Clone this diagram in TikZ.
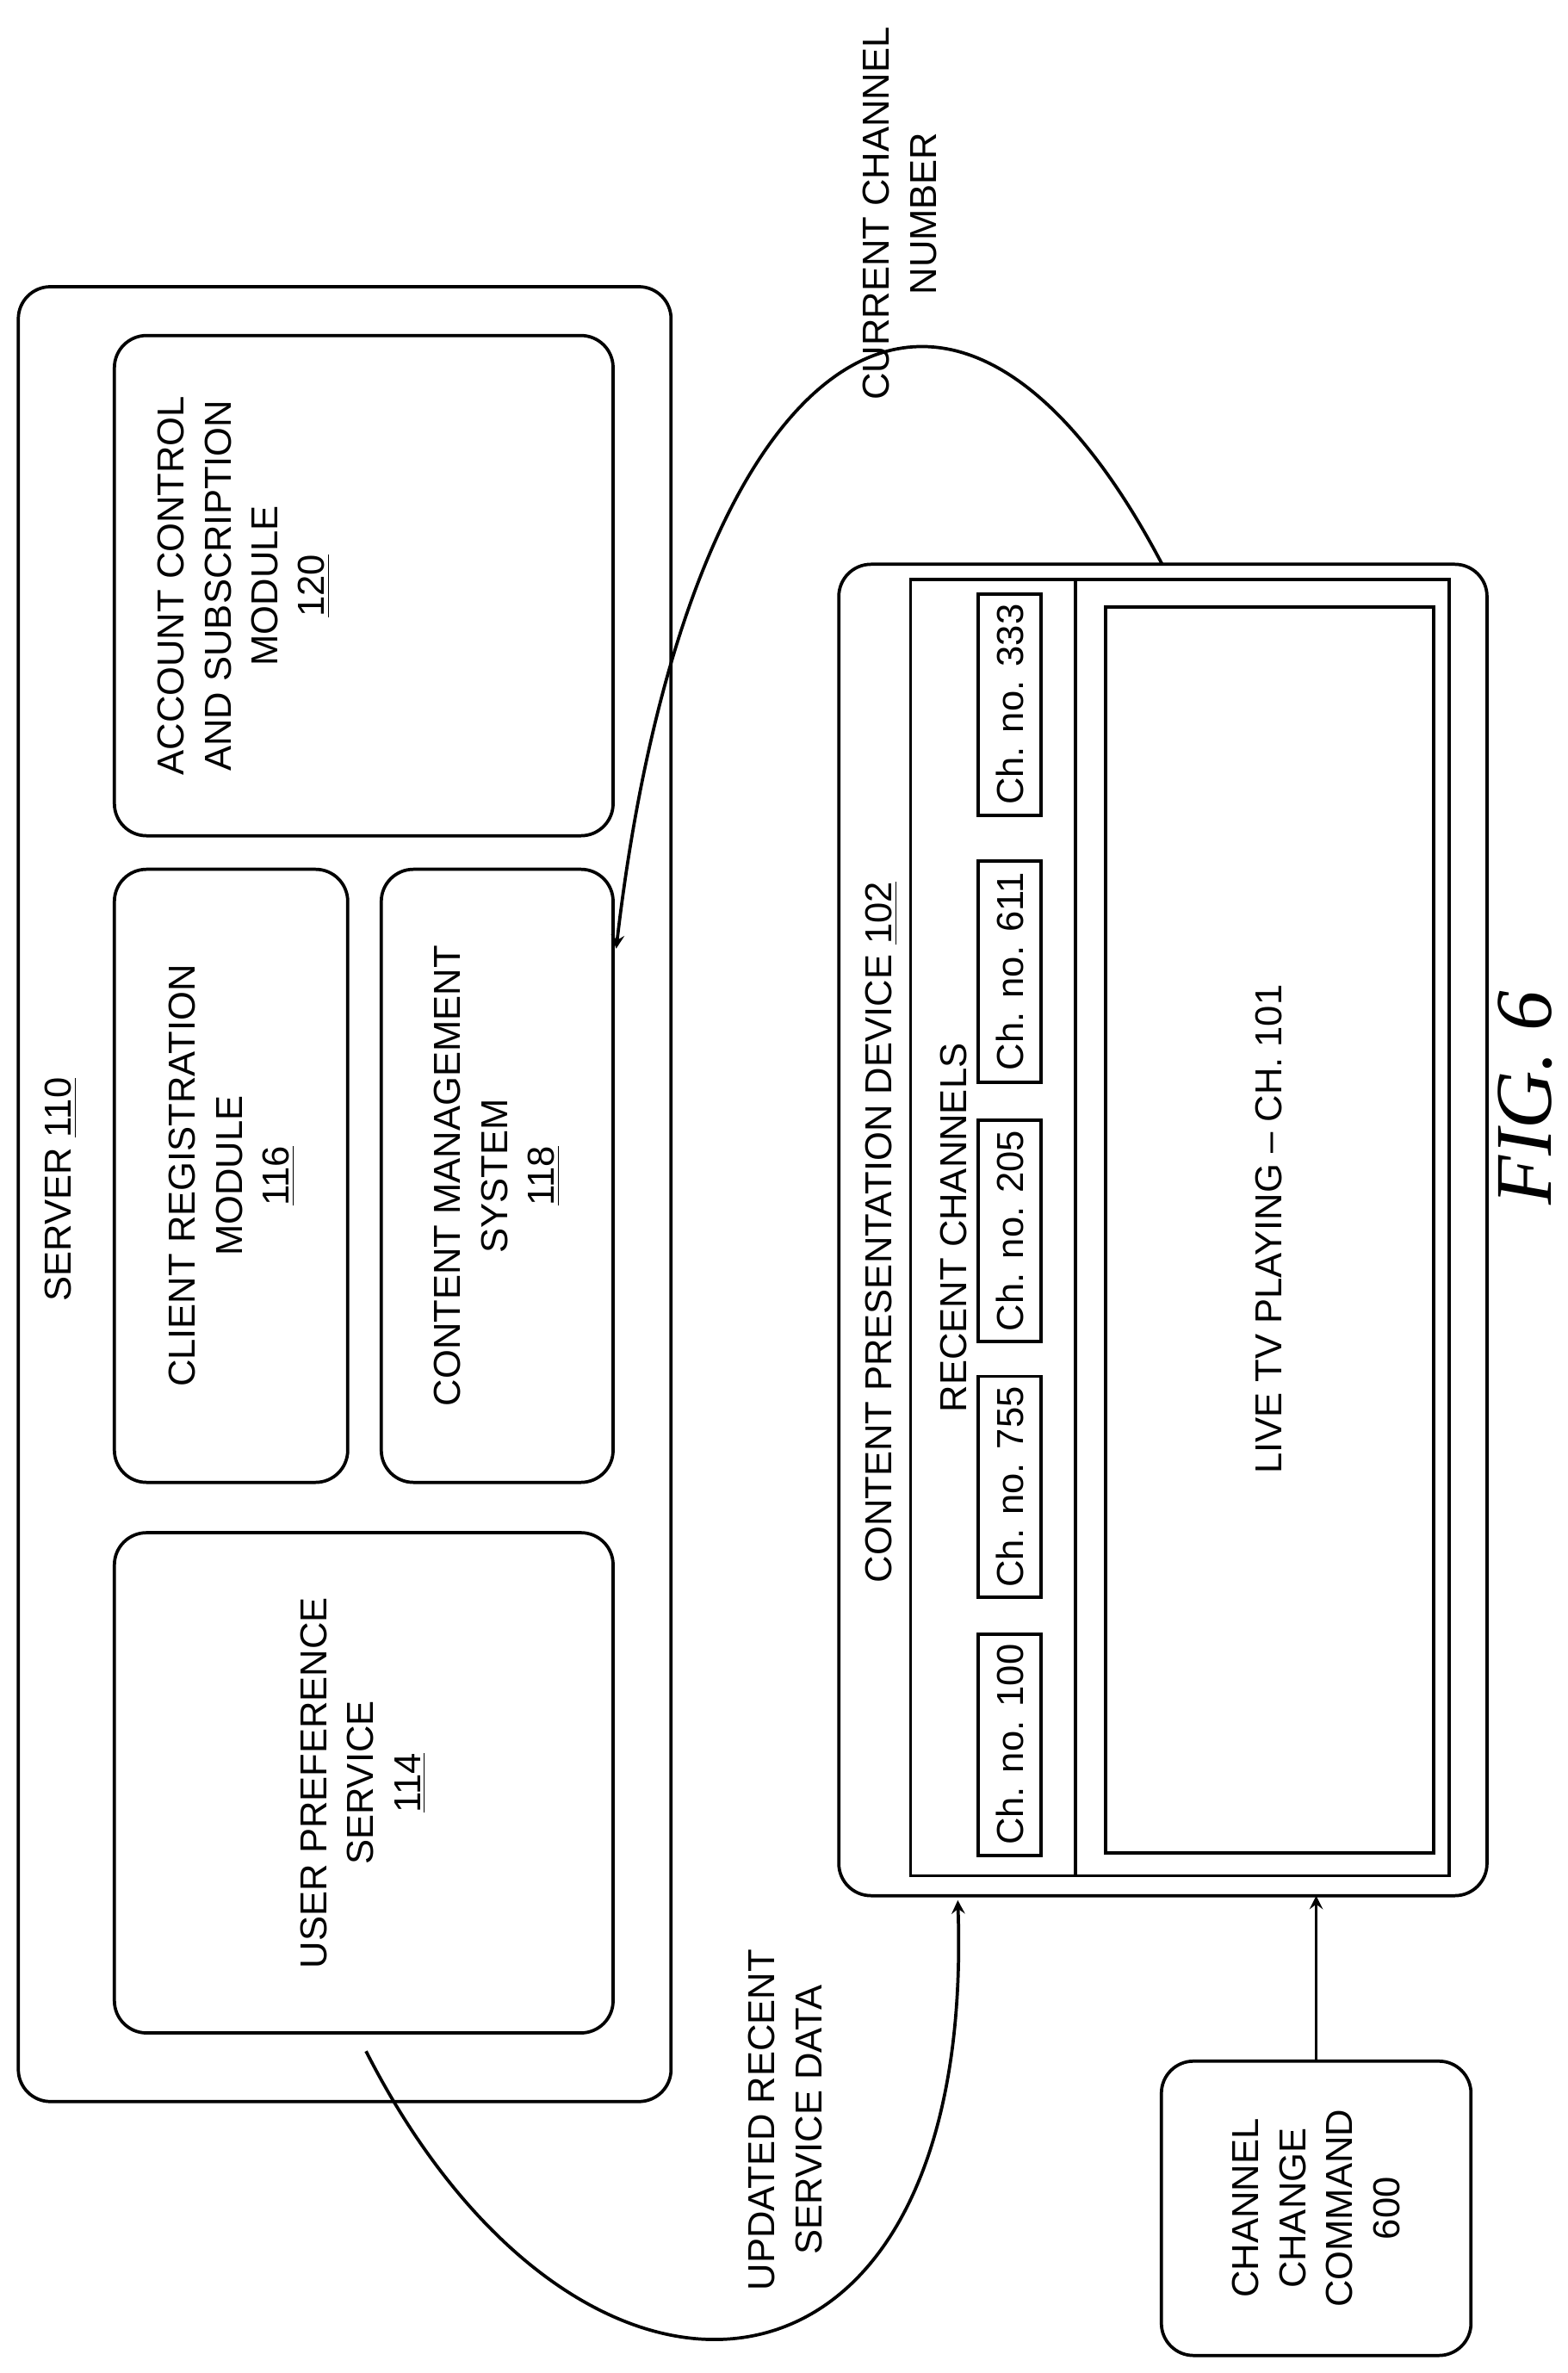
\documentclass[tikz,border=0pt]{standalone}
\usepackage{fontspec}
\setmainfont{Liberation Sans}
\newfontfamily\figfont{Liberation Serif}
\usetikzlibrary{arrows}
\tikzstyle{module} = [rectangle, rounded corners=12pt, draw=black, line width=1.2pt]
\tikzstyle{chbox} = [rectangle, draw=black, line width=1.2pt, minimum width=2.9cm, minimum height=0.82cm, inner sep=0pt]
\tikzstyle{label} = [rotate=90, align=center, font=\fontsize{14}{17.5}\selectfont]
\tikzstyle{arrow} = [line width=1.2pt,->,>=stealth]

\begin{document}
\begin{tikzpicture}[x=0.02cm, y=-0.02cm]
        \useasboundingbox (0,0) rectangle (1028,1556);
        % server
        \draw [module] (12,188) rectangle (440,1378);
        \node (server) [label] at (40,780) {SERVER \underline{110}};
        \draw [module] (75,220) rectangle (402,548);
        \node (acct) [label] at (160,384) {ACCOUNT CONTROL\\AND SUBSCRIPTION\\MODULE\\\underline{120}};
        \draw [module] (75,570) rectangle (228,972);
        \node (client) [label] at (152,771) {CLIENT REGISTRATION\\MODULE\\\underline{116}};
        \draw [module] (250,570) rectangle (402,972);
        \node (cms) [label] at (326,771) {CONTENT MANAGEMENT\\SYSTEM\\\underline{118}};
        \draw [module] (75,1005) rectangle (402,1333);
        \node (pref) [label] at (238,1169) {USER PREFERENCE\\SERVICE\\\underline{114}};
        % device
        \draw [module] (550,370) rectangle (975,1243);
        \node (device) [label] at (578,808) {CONTENT PRESENTATION DEVICE \underline{102}};
        \draw [line width=1.2pt] (597,380) rectangle (950,1230);
        \draw [line width=1.2pt] (705,380) -- (705,1230);
        \node (recent) [label] at (625,805) {RECENT CHANNELS};
        \node (ch333) [chbox, label] at (662,462) {Ch. no. 333};
        \node (ch611) [chbox, label] at (662,637) {Ch. no. 611};
        \node (ch205) [chbox, label] at (662,807) {Ch. no. 205};
        \node (ch755) [chbox, label] at (662,975) {Ch. no. 755};
        \node (ch100) [chbox, label] at (662,1144) {Ch. no. 100};
        \draw [line width=1.2pt] (725,398) rectangle (940,1215);
        \node (live) [label] at (832,806) {LIVE TV PLAYING -- CH. 101};
        % command
        \node (cmd) [module, minimum width=203*0.02cm, minimum height=193*0.02cm] at (863,1448) {};
        \node (cmdtxt) [label] at (863,1448) {CHANNEL\\CHANGE\\COMMAND\\600};
        \coordinate (devbot) at (863,1243);
        \draw [arrow] (cmd.north) -- (devbot);
        % curves
        \coordinate (devtop) at (762,370);
        \coordinate (cmsin) at (404,622);
        \draw [arrow] (devtop) .. controls (620,100) and (450,230) .. (cmsin);
        \node (curnum) [label] at (590,140) {CURRENT CHANNEL\\NUMBER};
        \coordinate (prefout) at (240,1345);
        \coordinate (devin) at (628,1246);
        \draw [arrow] (prefout) .. controls (380,1620) and (640,1600) .. (devin);
        \node (upd) [label] at (515,1390) {UPDATED RECENT\\SERVICE DATA};
        \node (fig) [rotate=90, font=\fontsize{30}{34}\selectfont\figfont\itshape] at (1000,720) {FIG. 6};
    \end{tikzpicture}
\end{document}
